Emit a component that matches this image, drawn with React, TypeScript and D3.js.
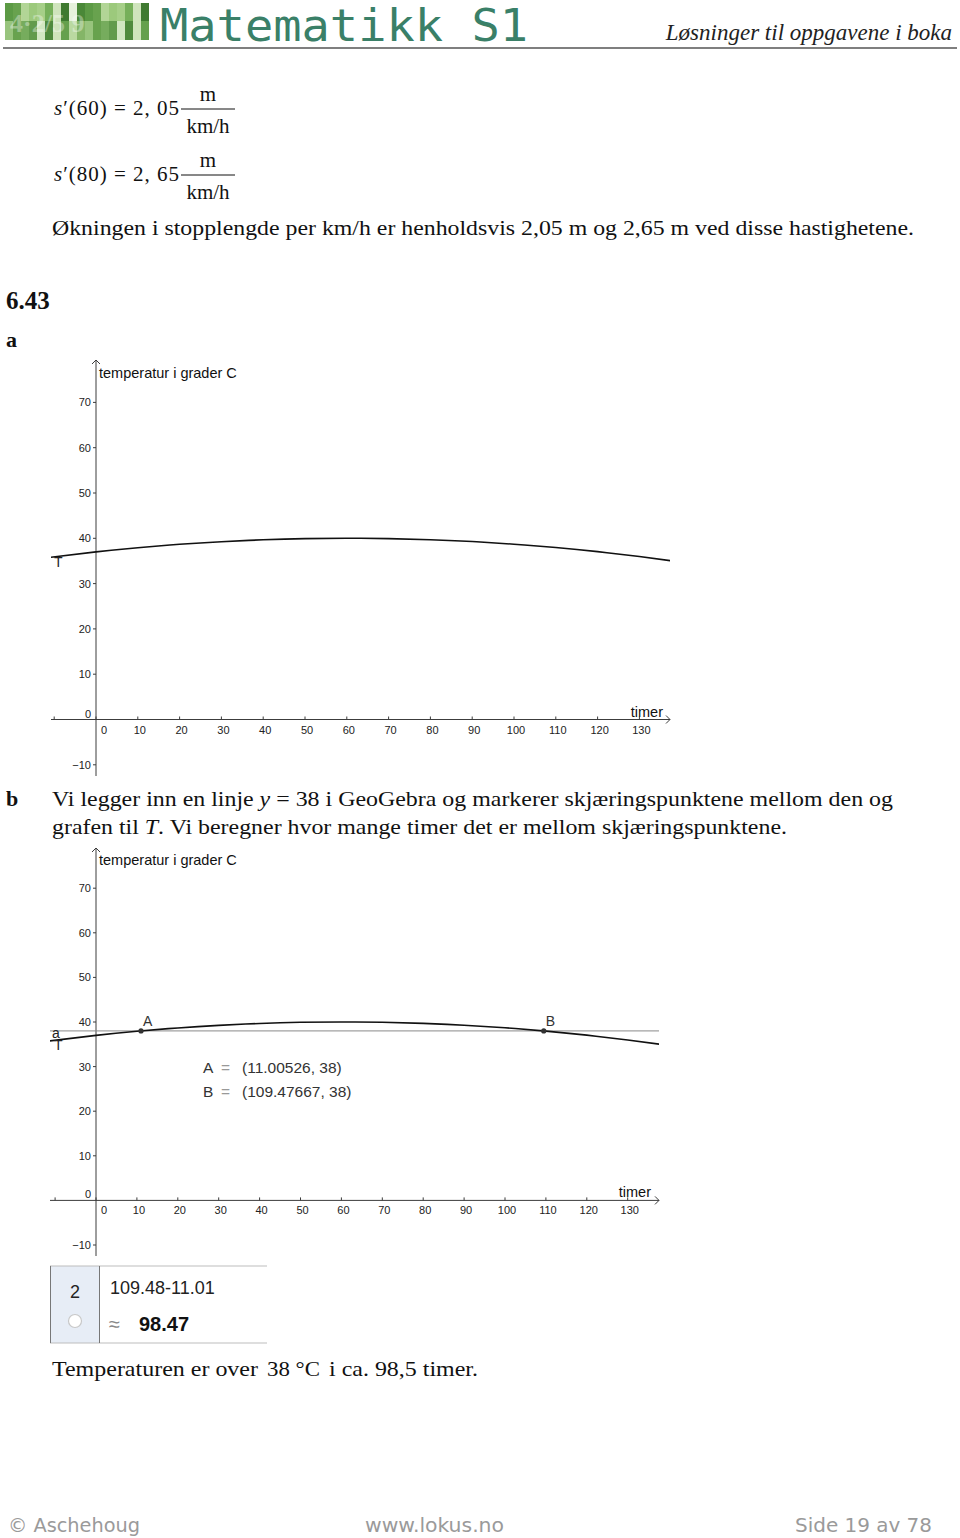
import React from "react";
import * as d3 from "d3";

// ---- data ----
const xTicks = [0, 10, 20, 30, 40, 50, 60, 70, 80, 90, 100, 110, 120, 130];
const yTicks = [-10, 0, 10, 20, 30, 40, 50, 60, 70];
const curveX = [-11.3, 0, 10, 20, 30, 40, 50, 60, 70, 80, 90, 100, 110, 120, 130, 137.7];
const curveT = [35.76, 37, 37.92, 38.67, 39.25, 39.67, 39.93, 40.01, 39.93, 39.69, 39.28, 38.7, 37.96, 37.05, 35.97, 35.03];
const lineY = 38;
const pointNames = ["A", "B"];
const pointX = [11.00526, 109.47667];
const pointLabels = ["(11.00526, 38)", "(109.47667, 38)"];

const SANS = "Liberation Sans, Arial, sans-serif";
const SERIF = "Liberation Serif, Times New Roman, serif";
const FOOT = "DejaVu Sans Condensed, DejaVu Sans, sans-serif";

type G = {
  x0: number; k: number; y0: number; ky: number;
  left: number; right: number; top: number; bottom: number;
  titleY: number; timerX: number;
};

const g1: G = { x0: 96, k: 4.18, y0: 719.5, ky: 4.53, left: 51, right: 670, top: 360, bottom: 776, titleY: 378, timerX: 663 };
const g2: G = { x0: 96, k: 4.09, y0: 1200.4, ky: 4.46, left: 50, right: 659, top: 848, bottom: 1256, titleY: 865, timerX: 651 };

function Graph({ g, id, second }: { g: G; id: string; second?: boolean }) {
  const x = d3.scaleLinear().domain([0, 100]).range([g.x0, g.x0 + g.k * 100]);
  const y = d3.scaleLinear().domain([0, 10]).range([g.y0, g.y0 - g.ky * 10]);
  const line = d3.line<number>().x((d, i) => x(curveX[i])).y((d) => y(d)).curve(d3.curveNatural);
  const axisColor = "#3c3c3c";
  const allXTicks = [-10, ...xTicks];
  return (
    <g>
      <defs>
        <clipPath id={id}>
          <rect x={g.left} y={g.top} width={g.right - g.left} height={g.bottom - g.top} />
        </clipPath>
      </defs>
      <line x1={g.left} x2={g.right} y1={g.y0} y2={g.y0} stroke={axisColor} strokeWidth={1} />
      <path d={`M${g.right - 4},${g.y0 - 4} L${g.right},${g.y0} L${g.right - 4},${g.y0 + 4}`} fill="none" stroke={axisColor} strokeWidth={1} />
      <line x1={g.x0} x2={g.x0} y1={g.top} y2={g.bottom} stroke={axisColor} strokeWidth={1} />
      <path d={`M${g.x0 - 4},${g.top + 4} L${g.x0},${g.top} L${g.x0 + 4},${g.top + 4}`} fill="none" stroke={axisColor} strokeWidth={1} />
      {allXTicks.map((t) => (
        <line key={"xt" + t} x1={x(t)} x2={x(t)} y1={g.y0 - 3} y2={g.y0} stroke={axisColor} />
      ))}
      {xTicks.map((t) => (
        <text key={"xl" + t} x={t === 0 ? x(t) + 8 : x(t) + 2} y={g.y0 + 14} fontFamily={SANS} fontSize={11} textAnchor="middle" fill="#222">
          {t}
        </text>
      ))}
      {yTicks.filter((t) => t !== 0).map((t) => (
        <g key={"yt" + t}>
          <line x1={g.x0 - 3} x2={g.x0} y1={y(t)} y2={y(t)} stroke={axisColor} />
          <text x={g.x0 - 5} y={y(t) + 4} fontFamily={SANS} fontSize={11} textAnchor="end" fill="#222">
            {t === -10 ? "\u221210" : t}
          </text>
        </g>
      ))}
      <text x={g.x0 - 5} y={g.y0 - 2} fontFamily={SANS} fontSize={11} textAnchor="end" fill="#222">0</text>
      <text x={g.x0 + 3} y={g.titleY} fontFamily={SANS} fontSize={14.5} fill="#111">temperatur i grader C</text>
      <text x={g.timerX} y={g.y0 - 3} fontFamily={SANS} fontSize={14.5} textAnchor="end" fill="#111">timer</text>
      {second && (
        <line x1={g.left} x2={g.right} y1={y(lineY)} y2={y(lineY)} stroke="#8a8a8a" strokeWidth={1} />
      )}
      <path d={line(curveT) || ""} fill="none" stroke="#111" strokeWidth={1.6} clipPath={`url(#${id})`} />
      {second ? (
        <g>
          <text x={52} y={y(38) + 7} fontFamily={SANS} fontSize={14} fill="#222">a</text>
          <text x={54} y={y(38) + 19} fontFamily={SANS} fontSize={14} fill="#222">T</text>
          {pointX.map((px, i) => (
            <g key={"p" + i}>
              <circle cx={x(px)} cy={y(lineY)} r={2.6} fill="#333" />
              <text x={x(px) + 2} y={y(lineY) - 5} fontFamily={SANS} fontSize={14} fill="#333">{pointNames[i]}</text>
              <text x={203} y={1073 + i * 24} fontFamily={SANS} fontSize={15.5} fill="#333">
                {pointNames[i]}
              </text>
              <text x={221} y={1073 + i * 24} fontFamily={SANS} fontSize={15.5} fill="#999">=</text>
              <text x={242} y={1073 + i * 24} fontFamily={SANS} fontSize={15.5} fill="#333">{pointLabels[i]}</text>
            </g>
          ))}
        </g>
      ) : (
        <text x={54} y={y(36) + 11} fontFamily={SANS} fontSize={14} fill="#222">T</text>
      )}
    </g>
  );
}

function Logo() {
  const shades = ["#5c9a45", "#9cc97c", "#cfe4bc", "#4a8838", "#b2d596", "#76b05a", "#e6f1dc", "#68a24e", "#a6cf88", "#3f7a30"];
  const cells = d3.range(0, 18).map((i) => i);
  return (
    <g>
      {cells.map((i) => (
        <rect key={i} x={5 + i * 8} y={3} width={8} height={37} fill={shades[(i * 7) % shades.length]} />
      ))}
      {cells.map((i) => (
        <rect key={"b" + i} x={5 + i * 8} y={21} width={8} height={19} fill={shades[(i * 3 + 4) % shades.length]} opacity={0.7} />
      ))}
      <text x={10} y={32} fontFamily={SERIF} fontSize={26} fontWeight="bold" fill="#ffffff" opacity={0.35}>4·2/5 9</text>
    </g>
  );
}

export default function App() {
  return (
    <svg width={960} height={1538} style={{ position: "absolute", left: 0, top: 0, background: "#fff" }}>
      <rect x={0} y={0} width={960} height={1538} fill="#fff" />
      <Logo />
      <text x={160} y={41} fontFamily="DejaVu Sans Mono, Liberation Mono, monospace" fontSize={44} fill="#3a8068" textLength={368} lengthAdjust="spacingAndGlyphs">Matematikk S1</text>
      <text x={952} y={40} fontFamily={SERIF} fontSize={23} fontStyle="italic" textAnchor="end" fill="#222">Løsninger til oppgavene i boka</text>
      <line x1={3} x2={957} y1={48} y2={48} stroke="#555" strokeWidth={1.6} />

      {[{ y: 115, arg: "60", val: "2, 05" }, { y: 181, arg: "80", val: "2, 65" }].map((r) => (
        <g key={r.arg}>
          <text x={54} y={r.y} fontFamily={SERIF} fontSize={21} fill="#111" textLength={125} lengthAdjust="spacing">
            <tspan fontStyle="italic">s</tspan>
            <tspan>{`\u2032(${r.arg}) = ${r.val}`}</tspan>
          </text>
          <text x={208} y={r.y - 14} fontFamily={SERIF} fontSize={21} textAnchor="middle" fill="#111">m</text>
          <line x1={181} x2={235} y1={r.y - 6} y2={r.y - 6} stroke="#111" strokeWidth={1} />
          <text x={208} y={r.y + 18} fontFamily={SERIF} fontSize={21} textAnchor="middle" fill="#111">km/h</text>
        </g>
      ))}
      <text x={52} y={235} fontFamily={SERIF} fontSize={21} fill="#111" textLength={862} lengthAdjust="spacingAndGlyphs">Økningen i stopplengde per km/h er henholdsvis 2,05 m og 2,65 m ved disse hastighetene.</text>

      <text x={6} y={309} fontFamily={SERIF} fontSize={25} fontWeight="bold" fill="#111">6.43</text>
      <text x={6} y={347} fontFamily={SERIF} fontSize={22} fontWeight="bold" fill="#111">a</text>

      <Graph g={g1} id="clip1" />

      <text x={6} y={806} fontFamily={SERIF} fontSize={22} fontWeight="bold" fill="#111">b</text>
      <text x={52} y={806} fontFamily={SERIF} fontSize={21} fill="#111" textLength={841} lengthAdjust="spacingAndGlyphs">
        Vi legger inn en linje <tspan fontStyle="italic">y</tspan> = 38 i GeoGebra og markerer skjæringspunktene mellom den og
      </text>
      <text x={52} y={834} fontFamily={SERIF} fontSize={21} fill="#111" textLength={735} lengthAdjust="spacingAndGlyphs">
        grafen til <tspan fontStyle="italic">T</tspan>. Vi beregner hvor mange timer det er mellom skjæringspunktene.
      </text>

      <Graph g={g2} id="clip2" second />

      <rect x={50} y={1266} width={49} height={77} fill="#e7edf6" />
      <line x1={50} x2={267} y1={1266} y2={1266} stroke="#bdbdbd" strokeWidth={1.2} />
      <line x1={50} x2={267} y1={1343} y2={1343} stroke="#bdbdbd" strokeWidth={1.2} />
      <line x1={50.5} x2={50.5} y1={1266} y2={1343} stroke="#777" strokeWidth={1} />
      <line x1={99.5} x2={99.5} y1={1266} y2={1343} stroke="#777" strokeWidth={1} />
      <text x={75} y={1298} fontFamily={SANS} fontSize={18} textAnchor="middle" fill="#222">2</text>
      <circle cx={75} cy={1321} r={6.5} fill="#fff" stroke="#c8c8c8" strokeWidth={1.2} />
      <text x={110} y={1294} fontFamily={SANS} fontSize={18} fill="#222">109.48-11.01</text>
      <text x={109} y={1331} fontFamily={SANS} fontSize={20} fill="#888">≈</text>
      <text x={139} y={1331} fontFamily={SANS} fontSize={20} fontWeight="bold" fill="#111">98.47</text>

      <text x={52} y={1376} fontFamily={SERIF} fontSize={22} fill="#111" textLength={206} lengthAdjust="spacingAndGlyphs">Temperaturen er over</text>
      <text x={267} y={1376} fontFamily={SERIF} fontSize={22} fill="#111" textLength={53} lengthAdjust="spacingAndGlyphs">38 °C</text>
      <text x={329} y={1376} fontFamily={SERIF} fontSize={22} fill="#111" textLength={149} lengthAdjust="spacingAndGlyphs">i ca. 98,5 timer.</text>

      <text x={8} y={1532} fontFamily={FOOT} fontSize={20} fill="#9a9a9a" textLength={132} lengthAdjust="spacingAndGlyphs">© Aschehoug</text>
      <text x={365} y={1532} fontFamily={FOOT} fontSize={20} fill="#9a9a9a" textLength={139} lengthAdjust="spacingAndGlyphs">www.lokus.no</text>
      <text x={795} y={1532} fontFamily={FOOT} fontSize={20} fill="#9a9a9a" textLength={137} lengthAdjust="spacingAndGlyphs">Side 19 av 78</text>
    </svg>
  );
}
